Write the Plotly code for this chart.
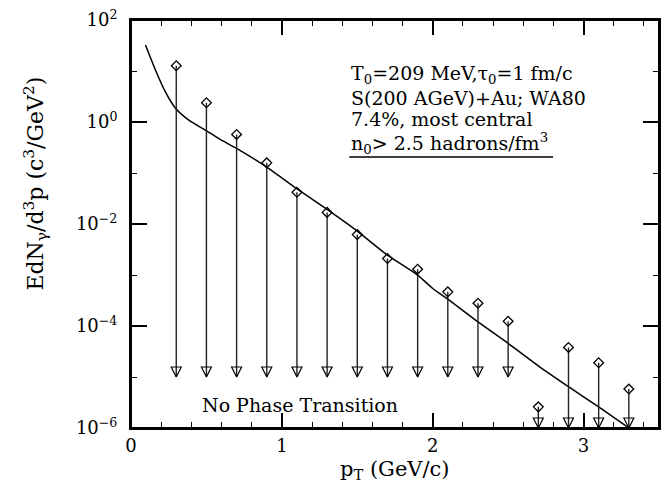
import plotly.graph_objects as go

# ---- data ----
pt_points = [0.3, 0.5, 0.7, 0.9, 1.1, 1.3, 1.5, 1.7, 1.9, 2.1, 2.3, 2.5, 2.7, 2.9, 3.1, 3.3]
upper_limits = [12.7, 2.38, 0.57, 0.158, 0.042, 0.0169, 0.0062, 0.0021, 0.00130,
                0.000467, 0.00028, 0.000124, 2.6e-6, 3.8e-5, 1.9e-5, 5.8e-6]
arrow_tips = [1e-5] * 12 + [1e-6] * 4

curve_pt = [0.096, 0.162, 0.228, 0.295, 0.383, 0.493, 0.58, 0.70, 0.897, 1.096, 1.30,
            1.50, 1.70, 1.90, 2.0, 2.1, 2.3, 2.5, 2.7, 2.9, 3.1, 3.3]
curve_y = [32.4, 10.5, 3.89, 1.86, 1.09, 0.695, 0.479, 0.303, 0.132, 0.0501, 0.0193,
           0.00724, 0.00245, 0.000993, 0.000544, 0.000336, 0.000120, 4.57e-5, 1.66e-5,
           6.46e-6, 2.59e-6, 1.0e-6]

y_tickvals = [1e-6, 1e-4, 1e-2, 1, 1e2]
y_ticktext = ["10<sup>−6</sup>", "10<sup>−4</sup>", "10<sup>−2</sup>", "10<sup>0</sup>", "10<sup>2</sup>"]
y_minor = [1e-5, 1e-3, 1e-1, 1e1]
x_tickvals = [0, 1, 2, 3]

info_lines = ["T<sub>0</sub>=209 MeV,τ<sub>0</sub>=1 fm/c",
              "S(200 AGeV)+Au; WA80",
              "7.4%, most central",
              "n<sub>0</sub>> 2.5 hadrons/fm<sup>3</sup>"]

FONT = "DejaVu Serif"

# stems built from the data arrays
stem_x, stem_y = [], []
for x, yv, yt in zip(pt_points, upper_limits, arrow_tips):
    stem_x += [x, x, None]
    stem_y += [yv, yt, None]

fig = go.Figure()
fig.add_trace(go.Scatter(x=curve_pt, y=curve_y, mode="lines",
                         line=dict(color="black", width=1.5, shape="spline", smoothing=0.6),
                         hoverinfo="skip"))
fig.add_trace(go.Scatter(x=stem_x, y=stem_y, mode="lines",
                         line=dict(color="#222", width=1.4), hoverinfo="skip"))
fig.add_trace(go.Scatter(x=pt_points, y=arrow_tips, mode="markers",
                         marker=dict(symbol="arrow-down-open", size=10,
                                     color="black", line=dict(width=1.2, color="black"))))
fig.add_trace(go.Scatter(x=pt_points, y=upper_limits, mode="markers",
                         marker=dict(symbol="diamond-open", size=7.5,
                                     color="black", line=dict(width=1.3, color="black"))))

# annotations
line_y = [0.8675, 0.810, 0.757, 0.697]
for txt, yy in zip(info_lines, line_y):
    fig.add_annotation(text=txt, xref="paper", yref="paper", x=0.4134, y=yy,
                       xanchor="left", yanchor="middle", showarrow=False,
                       font=dict(family=FONT, size=19, color="black"))
fig.add_shape(type="line", xref="paper", yref="paper", x0=0.4134, x1=0.7994,
              y0=0.664, y1=0.664, line=dict(color="black", width=1.5))
# plot frame
fig.add_shape(type="rect", xref="paper", yref="paper", x0=0, x1=1, y0=0, y1=1,
              line=dict(color="black", width=2), layer="above")
fig.add_annotation(text="No Phase Transition", xref="paper", yref="paper",
                   x=0.1315, y=0.0557, xanchor="left", yanchor="middle", showarrow=False,
                   font=dict(family=FONT, size=19, color="black"))
fig.add_annotation(text="EdN<sub>γ</sub>/d<sup>3</sup>p (c<sup>3</sup>/GeV<sup>2</sup>)",
                   xref="paper", yref="paper", x=-0.1807, y=0.598, textangle=-90,
                   xanchor="center", yanchor="middle", showarrow=False,
                   font=dict(family=FONT, size=22, color="black"))
fig.add_annotation(text="p<sub>T</sub> (GeV/c)", xref="paper", yref="paper",
                   x=0.5, y=-0.104, xanchor="center", yanchor="middle", showarrow=False,
                   font=dict(family=FONT, size=21, color="black"))

fig.update_layout(
    width=670, height=485,
    margin=dict(l=130.5, r=11, t=20, b=57.3),
    paper_bgcolor="white", plot_bgcolor="white",
    showlegend=False,
    font=dict(family=FONT, size=18, color="black"),
)
fig.update_xaxes(range=[0, 3.5], tickvals=x_tickvals, ticks="inside", ticklen=15,
                 tickwidth=1.5, tickcolor="black", showline=True, linecolor="black",
                 linewidth=2, mirror="allticks", showgrid=False, zeroline=False,
                 tickfont=dict(family=FONT, size=18), automargin=False,
                 minor=dict(dtick=0.2, ticks="inside", ticklen=6, tickwidth=1.2,
                            tickcolor="black", showgrid=False))
fig.update_yaxes(type="log", range=[-6, 2], tickvals=y_tickvals, ticktext=y_ticktext,
                 ticks="inside", ticklen=16, tickwidth=1.5, tickcolor="black",
                 showline=True, linecolor="black", linewidth=2, mirror="allticks",
                 showgrid=False, zeroline=False, ticklabelstandoff=8, automargin=False,
                 tickfont=dict(family=FONT, size=18),
                 minor=dict(tickvals=y_minor, ticks="inside", ticklen=6, tickwidth=1.2,
                            tickcolor="black", showgrid=False))

fig.write_html("out.html", config={"displayModeBar": False},
               post_script="document.body.style.margin='0';document.body.style.overflow='hidden';")
